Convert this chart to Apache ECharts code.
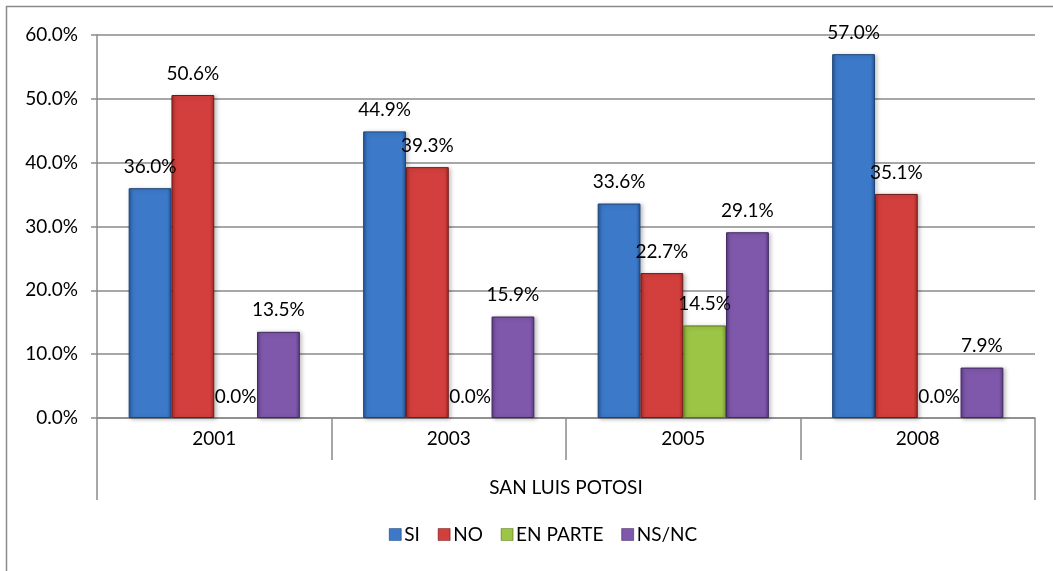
<!DOCTYPE html>
<html>
<head>
<meta charset="utf-8">
<script src="https://cdn.jsdelivr.net/npm/echarts@6/dist/echarts.min.js"></script>
<style>
  html, body { margin: 0; padding: 0; background: #ffffff; }
  #chart { width: 1053px; height: 571px; }
</style>
</head>
<body>
<div id="chart"></div>
<script>
// Survey answers by year, San Luis Potosí (percent)
const years = ['2001', '2003', '2005', '2008'];
const region = ['SAN LUIS POTOSI'];
const seriesNames = ['SI', 'NO', 'EN PARTE', 'NS/NC'];
const si = [36.0, 44.9, 33.6, 57.0];
const no = [50.6, 39.3, 22.7, 35.1];
const enParte = [0.0, 0.0, 14.5, 0.0];
const nsnc = [13.5, 15.9, 29.1, 7.9];
const yTicks = { min: 0, max: 60, interval: 10 };

// body, edge and border tones for each series
const palette = [
  { mid: '#3c79c8', edge: '#25569a', border: '#1c4277' },
  { mid: '#d33f3d', edge: '#a52a28', border: '#6e1918' },
  { mid: '#9cc546', edge: '#78a02a', border: '#58771c' },
  { mid: '#7f58ab', edge: '#5d3c86', border: '#40285e' }
];

const FONT = 'Lato';
const FS = 19;

function bevel(p) {
  return new echarts.graphic.LinearGradient(0, 0, 1, 0, [
    { offset: 0, color: p.edge },
    { offset: 0.1, color: p.mid },
    { offset: 0.9, color: p.mid },
    { offset: 1, color: p.edge }
  ]);
}

const values = [si, no, enParte, nsnc];
const series = seriesNames.map((name, i) => ({
  name: name,
  type: 'bar',
  // zero-height bars carry no outline
  data: values[i].map(v => (v === 0 ? { value: v, itemStyle: { borderWidth: 0, shadowBlur: 0, shadowOffsetX: 0, shadowOffsetY: 0 } } : v)),
  barGap: '0%',
  barCategoryGap: '27%',
  itemStyle: {
    color: bevel(palette[i]),
    borderColor: palette[i].border,
    borderWidth: 1,
    shadowColor: 'rgba(0,0,0,0.25)',
    shadowBlur: 4,
    shadowOffsetX: 2,
    shadowOffsetY: 1
  },
  label: {
    show: true,
    position: 'top',
    distance: 12,
    color: '#000',
    fontFamily: FONT,
    fontSize: FS,
    formatter: p => p.value.toFixed(1) + '%'
  }
}));

const chart = echarts.init(document.getElementById('chart'), null, { renderer: 'canvas' });
chart.setOption({
  animation: false,
  backgroundColor: '#ffffff',
  textStyle: { fontFamily: FONT },
  graphic: [{
    type: 'rect',
    shape: { x: 6.5, y: 6.5, width: 1200, height: 700 },
    style: { fill: 'none', stroke: '#8a8a8a', lineWidth: 1.5 },
    silent: true,
    z: -10
  }],
  legend: {
    bottom: 22,
    left: 384,
    itemWidth: 12,
    itemHeight: 12,
    itemGap: 18,
    icon: 'rect',
    textStyle: { fontFamily: FONT, fontSize: FS, color: '#000', padding: [0, 0, 0, -2] },
    data: seriesNames.map((n, i) => ({ name: n, itemStyle: { color: bevel(palette[i]), borderColor: palette[i].border, borderWidth: 0.5 } }))
  },
  grid: { left: 97, right: 18, top: 35, bottom: 153 },
  xAxis: [{
    type: 'category',
    data: years,
    position: 'bottom',
    axisLine: { show: true, lineStyle: { color: '#8a8a8a', width: 1.5 } },
    axisTick: { show: true, alignWithLabel: false, length: 42, lineStyle: { color: '#8a8a8a', width: 1.5 } },
    axisLabel: { color: '#000', fontFamily: FONT, fontSize: FS, margin: 11 },
    splitLine: { show: false }
  }, {
    type: 'category',
    data: region,
    position: 'bottom',
    axisLine: { show: false },
    axisTick: { show: true, alignWithLabel: false, length: 82, lineStyle: { color: '#8a8a8a', width: 1.5 } },
    axisLabel: { color: '#000', fontFamily: FONT, fontSize: FS, margin: 60 },
    splitLine: { show: false }
  }],
  yAxis: {
    type: 'value',
    min: yTicks.min,
    max: yTicks.max,
    interval: yTicks.interval,
    axisLine: { show: true, lineStyle: { color: '#8a8a8a', width: 1.5 } },
    axisTick: { show: true, length: 6, lineStyle: { color: '#8a8a8a', width: 1.5 } },
    axisLabel: { color: '#000', fontFamily: FONT, fontSize: FS, margin: 19, formatter: v => v.toFixed(1) + '%' },
    splitLine: { show: true, lineStyle: { color: '#8a8a8a', width: 1.5 } }
  },
  series: series
});
</script>
</body>
</html>
